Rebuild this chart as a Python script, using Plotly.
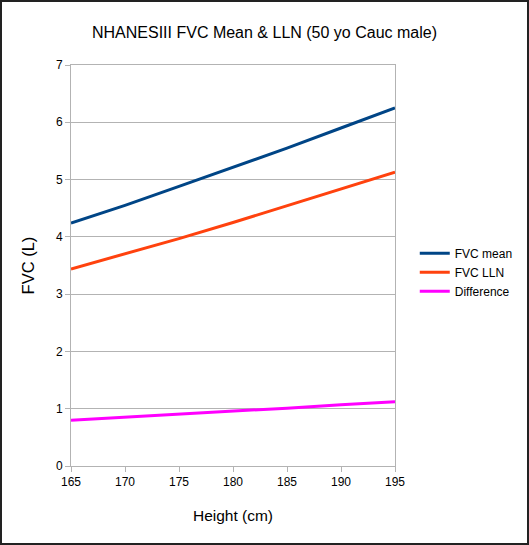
import plotly.graph_objects as go

height_cm = [165, 170, 175, 180, 185, 190, 195]
fvc_mean = [4.24, 4.55, 4.88, 5.21, 5.55, 5.90, 6.25]
fvc_lln = [3.44, 3.70, 3.97, 4.25, 4.54, 4.83, 5.13]
difference = [0.80, 0.85, 0.91, 0.96, 1.01, 1.07, 1.12]

W, H = 529, 545
ml, mr, mt, mb = 71, 134, 65, 79

fig = go.Figure()
fig.add_scatter(x=height_cm, y=fvc_mean, name="FVC mean", mode="lines",
                line=dict(color="#004586", width=3))
fig.add_scatter(x=height_cm, y=fvc_lln, name="FVC LLN", mode="lines",
                line=dict(color="#ff420e", width=3))
fig.add_scatter(x=height_cm, y=difference, name="Difference", mode="lines",
                line=dict(color="#ff00ff", width=3))

pw = W - ml - mr
ph = H - mt - mb
# outer frame around the whole picture
fig.add_shape(type="rect", xref="paper", yref="paper",
              x0=-(ml - 1) / pw, x1=(pw + mr - 1) / pw,
              y0=-(mb - 1) / ph, y1=(ph + mt - 1) / ph,
              line=dict(color="#222222", width=2))

fig.update_layout(
    width=W, height=H,
    margin=dict(l=ml, r=mr, t=mt, b=mb, autoexpand=False),
    paper_bgcolor="white", plot_bgcolor="white",
    font=dict(family="Liberation Sans, Arial, sans-serif", color="#000000"),
    title=dict(text="NHANESIII FVC Mean & LLN (50 yo Cauc male)",
               x=0.5, xanchor="center", y=1 - 32 / H, yanchor="middle",
               font=dict(size=16)),
    legend=dict(x=1.061, y=0.483, xanchor="left", yanchor="middle",
                font=dict(size=12), tracegroupgap=0, itemwidth=30),
    showlegend=True,
)
fig.update_xaxes(range=[165, 195], dtick=5, tick0=165,
                 showgrid=False, showline=True, linecolor="#b3b3b3", linewidth=1,
                 mirror=True, ticks="outside", ticklen=5, tickcolor="#b3b3b3",
                 tickfont=dict(size=12),
                 title=dict(text="Height (cm)", font=dict(size=15.5), standoff=21))
fig.update_yaxes(range=[0, 7], dtick=1,
                 showgrid=True, gridcolor="#b3b3b3", showline=True,
                 linecolor="#b3b3b3", linewidth=1, mirror=True,
                 ticks="outside", ticklen=5, tickcolor="#b3b3b3",
                 tickfont=dict(size=12), zeroline=False,
                 title=dict(text="FVC (L)", font=dict(size=16.5), standoff=17))

fig.write_html("out.html", config={"displayModeBar": False},
               post_script="document.body.style.margin='0';"
                           "document.body.style.overflow='hidden';")
